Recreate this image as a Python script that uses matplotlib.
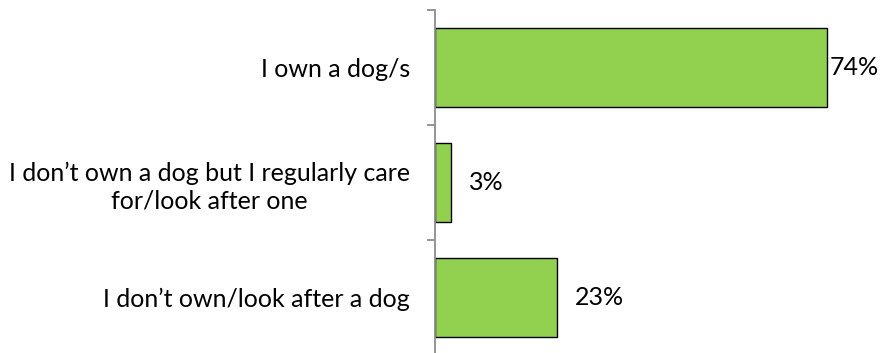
import matplotlib; matplotlib.use('Agg')
import matplotlib.pyplot as plt
import numpy as np

# dog ownership survey responses (% of respondents)
categories = ['I own a dog/s',
              'I don\u2019t own a dog but I regularly care\nfor/look after one',
              'I don\u2019t own/look after a dog']
values = [74, 3, 23]
value_labels = ['74%', '3%', '23%']

plt.rcParams['font.family'] = ['Lato', 'DejaVu Sans']

fig = plt.figure(figsize=(8.81, 3.53), dpi=100)
ax = fig.add_axes([435 / 881, -2 / 353, 424 / 881, 345 / 353])

pos = np.arange(len(categories))
ax.barh(pos, values, height=0.69, color='#92D050', edgecolor='black', linewidth=1.0)

ax.set_xlim(0, 80)
ax.set_ylim(len(categories) - 0.5, -0.5)

# tick marks sit between categories, labels at the bar centres
ax.set_yticks(np.arange(len(categories) + 1) - 0.5)
ax.set_yticklabels([])
ax.set_yticks(pos, minor=True)
ax.set_yticklabels(categories, minor=True, fontsize=18, multialignment='center',
                   linespacing=1.25)
ax.tick_params(axis='y', which='major', length=6, width=1.3, color='#8C8C8C', direction='out')
ax.tick_params(axis='y', which='minor', length=0, pad=18)
ax.set_xticks([])

for s in ['top', 'right', 'bottom']:
    ax.spines[s].set_visible(False)
ax.spines['left'].set_color('#8C8C8C')
ax.spines['left'].set_linewidth(1.3)

for p, v, lab in zip(pos, values, value_labels):
    pad = 1.5 if v == max(values) else 13
    ax.annotate(lab, (v, p), xytext=(pad, 0), textcoords='offset points',
                ha='left', va='center', fontsize=18)

plt.savefig('out.png', dpi=100)
